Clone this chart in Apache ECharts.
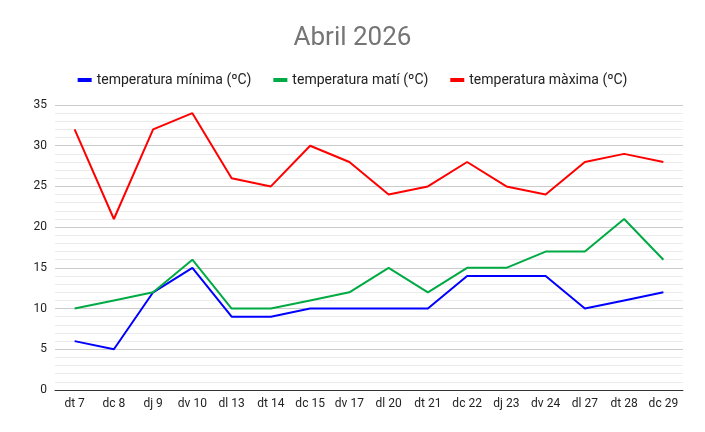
<!DOCTYPE html>
<html><head><meta charset="utf-8">
<script src="https://cdn.jsdelivr.net/npm/echarts@6/dist/echarts.min.js"></script>
<style>html,body{margin:0;padding:0;background:#fff}#c{width:705px;height:432px}</style>
</head><body><div id="c"></div>
<script>
var days = ['dt 7','dc 8','dj 9','dv 10','dl 13','dt 14','dc 15','dv 17','dl 20','dt 21','dc 22','dj 23','dv 24','dl 27','dt 28','dc 29'];
var tMin = [6,5,12,15,9,9,10,10,10,10,14,14,14,10,11,12];
var tMati = [10,11,12,16,10,10,11,12,15,12,15,15,17,17,21,16];
var tMax = [32,21,32,34,26,25,30,28,24,25,28,25,24,28,29,28];

var chart = echarts.init(document.getElementById('c'));
function line(name, data, color) {
	return {name: name, type: 'line', data: data, symbol: 'none',
		lineStyle: {width: 2, color: color}, itemStyle: {color: color}};
}
chart.setOption({
	animation: false,
	textStyle: {fontFamily: 'Roboto, Arial, sans-serif'},
	title: {text: 'Abril 2026', left: 'center', top: 20,
		textStyle: {fontSize: 26, fontWeight: 'normal', color: '#757575'}},
	legend: {top: 68, left: 'center', itemWidth: 14, itemHeight: 4, itemGap: 22,
		icon: 'rect', textStyle: {fontSize: 14, color: '#222'}},
	grid: {left: 55, right: 22, top: 105, bottom: 42},
	xAxis: {type: 'category', data: days,
		axisLine: {lineStyle: {color: '#333'}}, axisTick: {show: false},
		axisLabel: {color: '#222', fontSize: 12}},
	yAxis: {type: 'value', min: 0, max: 35, interval: 5,
		axisLabel: {color: '#222', fontSize: 12},
		splitLine: {lineStyle: {color: '#ccc'}},
		minorTick: {show: false, splitNumber: 5},
		minorSplitLine: {show: true, lineStyle: {color: '#ebebeb'}}},
	series: [
		line('temperatura mínima (ºC)', tMin, '#0000ff'),
		line('temperatura matí (ºC)', tMati, '#00aa44'),
		line('temperatura màxima (ºC)', tMax, '#ff0000')
	]
});
</script></body></html>
